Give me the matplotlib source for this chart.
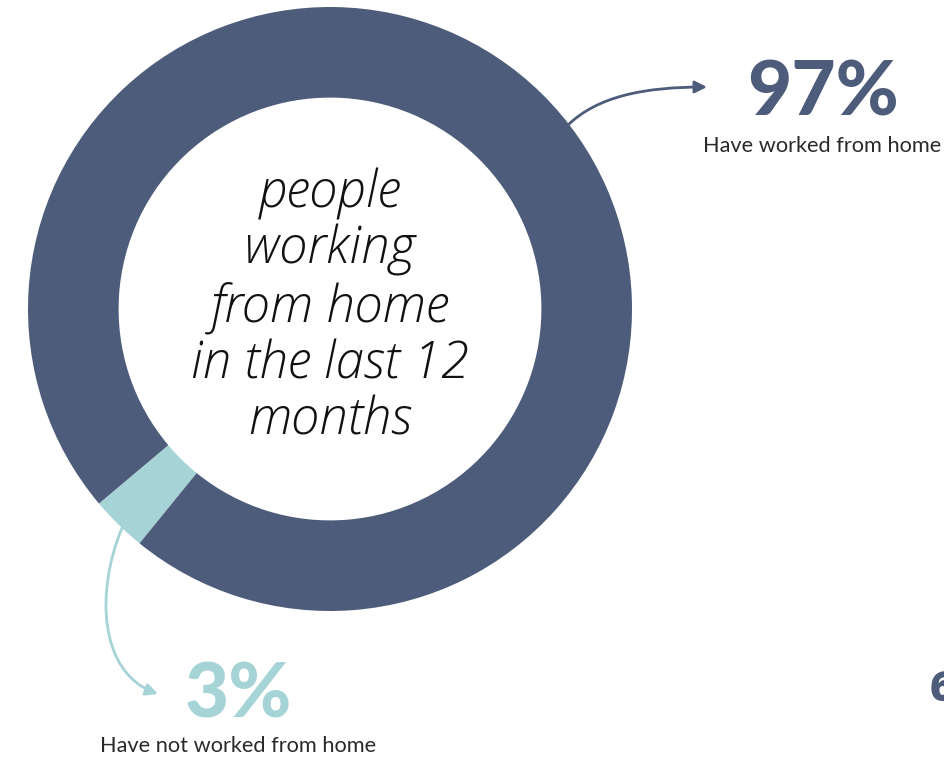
import matplotlib
matplotlib.use("Agg")
import matplotlib.pyplot as plt
from matplotlib.patches import FancyArrowPatch
from matplotlib.path import Path

# Data
categories = ["Have worked from home", "Have not worked from home"]
shares = [97, 3]
value_labels = ["97%", "3%"]
center_title = "people\nworking\nfrom home\nin the last 12\nmonths"

dark = "#4D5C7A"
light = "#A6D4D6"

W, H = 944, 763
fig = plt.figure(figsize=(W / 100, H / 100), dpi=100)
fig.patch.set_facecolor("white")

# donut axes
cx, cy, R = 330, 309, 302
ax = fig.add_axes([(cx - R) / W, (H - cy - R) / H, 2 * R / W, 2 * R / H])
mid = 225.5
start = mid - shares[1] / sum(shares) * 360 / 2
ax.pie([shares[1], shares[0]], colors=[light, dark], startangle=start,
       counterclock=True, radius=1,
       wedgeprops=dict(width=0.30, edgecolor="none", linewidth=0))
ax.set_xlim(-1, 1)
ax.set_ylim(-1, 1)
ax.axis("off")
ax.text(0, 0.005, center_title, ha="center", va="center", fontsize=36.5,
        family="Open Sans", style="italic", fontweight=300, color="#111111",
        linespacing=1.12)

# overlay axes in pixel coords
ov = fig.add_axes([0, 0, 1, 1])
ov.set_xlim(0, W)
ov.set_ylim(H, 0)
ov.axis("off")
ov.patch.set_alpha(0)

ov.text(823, 93, value_labels[0], ha="center", va="center", fontsize=55,
        family="Lato", fontweight="black", color=dark)
ov.text(822, 146, categories[0], ha="center", va="center", fontsize=15.7,
        family="Lato", color="#2a2a2a")
ov.text(239, 695, value_labels[1], ha="center", va="center", fontsize=55,
        family="Lato", fontweight="black", color=light)
ov.text(238, 746, categories[1], ha="center", va="center", fontsize=15.7,
        family="Lato", color="#2a2a2a")
ov.text(930, 690, "6", ha="left", va="center", fontsize=30,
        family="Open Sans", fontweight="heavy", style="normal", color=dark)

p1 = Path([(568, 125), (598, 96), (645, 87), (707, 87)],
          [Path.MOVETO, Path.CURVE4, Path.CURVE4, Path.CURVE4])
ov.add_patch(FancyArrowPatch(path=p1, arrowstyle="-|>", mutation_scale=18,
                             color=dark, lw=2))
p2 = Path([(122, 528), (96, 590), (98, 672), (158, 694)],
          [Path.MOVETO, Path.CURVE4, Path.CURVE4, Path.CURVE4])
ov.add_patch(FancyArrowPatch(path=p2, arrowstyle="-|>", mutation_scale=18,
                             color=light, lw=2))

fig.savefig("out.png", dpi=100, facecolor="white")
